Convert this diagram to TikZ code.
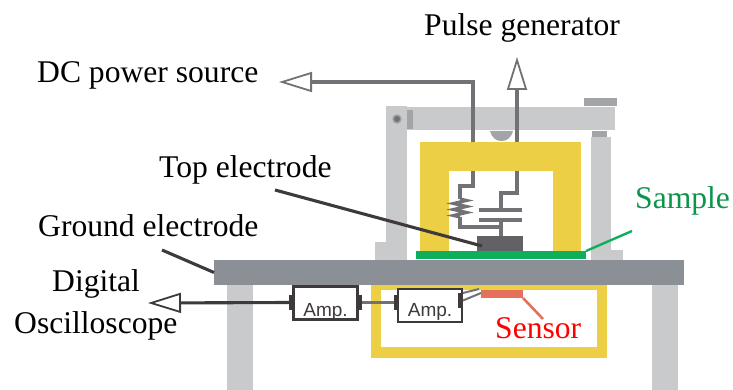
\documentclass[tikz,border=0pt]{standalone}
\usepackage{fontspec}
\setmainfont{Liberation Serif}
\newfontfamily\ampfont{Liberation Sans}
\usetikzlibrary{arrows.meta,decorations.pathmorphing}
\definecolor{postgrey}{HTML}{C9CACC}
\definecolor{plategrey}{HTML}{8B8F96}
\definecolor{framey}{HTML}{ECCF45}
\definecolor{samplegreen}{HTML}{0FAE5A}
\definecolor{sensorred}{HTML}{E5705C}
\definecolor{wiregrey}{HTML}{727276}
\definecolor{darkwire}{HTML}{3E3A3C}
\definecolor{elecgrey}{HTML}{626266}
\definecolor{capgrey}{HTML}{A3A4A7}
\newcommand{\blk}[6]{\node[inner sep=0pt,outer sep=0pt,fill=#6,minimum width={(#4-#2)*1pt},minimum height={(#5-#3)*1pt}] (#1) at ({(#2+#4)/2},{(#3+#5)/2}) {};}
\tikzset{
  wire/.style={draw=wiregrey,line width=3.1pt},
  darkline/.style={draw=darkwire,line width=3.1pt},
  opentip/.style={-{Triangle[open,length=33pt,width=20pt,line width=1.8pt,fill=white]}},
  label/.style={anchor=base west,inner sep=0pt,font=\fontsize{31.6}{32}\selectfont,text=black},
  ampbox/.style={draw=darkwire,line width=2.4pt,fill=white,inner sep=0pt,minimum width=64pt,minimum height=33pt},
  amptext/.style={anchor=base,inner sep=0pt,font=\ampfont\fontsize{19}{19}\selectfont,text=darkwire},
}
\begin{document}
\begin{tikzpicture}[x=1pt,y=-1pt]
\useasboundingbox (0,0) rectangle (733,390);
% legs and posts
\blk{legl}{227}{285}{253}{390}{postgrey}
\blk{legr}{652}{285}{678}{390}{postgrey}
\blk{postl}{386}{106}{407}{260}{postgrey}
\blk{postlb}{375}{242}{407}{260}{postgrey}
\blk{postr}{591}{137}{611}{260}{postgrey}
\blk{postrb}{591}{250}{623}{260}{postgrey}
\blk{postrcap}{592}{131}{607}{137}{capgrey}
\blk{beam}{407}{107}{615}{130}{postgrey}
\blk{beamtop}{584}{98}{617}{106}{capgrey}
\blk{hinge}{407}{110}{413}{129}{capgrey}
\node[circle,fill=wiregrey,draw=capgrey,line width=1.5pt,minimum size=8pt,inner sep=0pt] (pivot) at (397,119) {};
\fill[capgrey] (490,131) -- (513,131) .. controls (511,138) and (507,141) .. (501.5,141) .. controls (496,141) and (492,138) .. (490,131) -- cycle;
% upper frame
\blk{frameo}{420}{142}{581}{251}{framey}
\blk{framei}{449}{171}{553}{251}{white}
% lower frame
\blk{lowo}{371}{285}{607}{358}{framey}
\blk{lowi}{381}{290}{597}{347}{white}
% top electrode, sample, plate, sensor
\blk{electrode}{477}{236}{523}{251}{elecgrey}
\blk{sample}{416}{251}{586}{259}{samplegreen}
\blk{plate}{214}{260}{684}{285}{plategrey}
\blk{sensorblk}{481}{290}{523}{298}{sensorred}
% left branch
\coordinate (dcend) at (279,82);
\coordinate (dcc) at (473,82);
\coordinate (dcb) at (473,142);
\coordinate (la) at (473,171);
\coordinate (lb) at (473,186);
\coordinate (lc) at (460,186);
\coordinate (ld) at (460,199);
\coordinate (le) at (460,217);
\coordinate (lf) at (460,227);
\coordinate (lg) at (501,227);
\draw[wire,opentip] (dcb) -- (dcc) -- (dcend);
\draw[wire] (la) -- (lb) -- (lc) -- (ld);
\draw[wire,line width=3.2pt,decorate,decoration={zigzag,amplitude=6.5pt,segment length=6pt}] (ld) -- (le);
\draw[wire] (le) -- (lf) -- (lg);
% right branch
\coordinate (pgend) at (517,57);
\coordinate (pgb) at (517,142);
\coordinate (ra) at (517,171);
\coordinate (rb) at (517,193);
\coordinate (rc) at (501,193);
\coordinate (capa) at (501,210);
\coordinate (capb) at (501,220);
\coordinate (capal) at (479,210);
\coordinate (capar) at (522,210);
\coordinate (capbl) at (479,220);
\coordinate (capbr) at (522,220);
\draw[wire,opentip] (pgb) -- (pgend);
\draw[wire] (ra) -- (rb) -- (rc) -- (capa);
\draw[wire] (capal) -- (capar);
\draw[wire] (capbl) -- (capbr);
\draw[wire] (capb) -- (electrode.north -| capb);
% amplifiers
\node[ampbox] (ampa) at (325.5,303) {};
\node[ampbox] (ampb) at (430,305.5) {};
\node[amptext] (ampat) at (325.5,316) {Amp.};
\node[amptext] (ampbt) at (430,316) {Amp.};
\blk{ampal}{289}{295}{295}{310}{darkwire}
\blk{ampar}{357}{295}{362}{310}{darkwire}
\blk{ampbl}{394}{295}{399}{310}{darkwire}
\blk{ampbr}{458}{293}{463}{308}{darkwire}
\coordinate (oscend) at (148,303);
\draw[darkline,opentip] (ampal.west) -- (oscend);
\draw[wire] (ampar.east) -- (ampbl.west);
\coordinate (sa) at (479,289);
\coordinate (sb) at (481,293);
\draw[wire,line width=2pt] (ampbr.north east) -- (sa);
\draw[wire,line width=2pt] (ampbr.east) -- (sb);
% leaders
\coordinate (topl) at (275,190);
\coordinate (topr) at (482,246);
\draw[darkline] (topl) -- (topr);
\coordinate (gndl) at (162,250);
\draw[darkline] (gndl) -- (plate.west);
\coordinate (samr) at (632,231);
\draw[draw=samplegreen,line width=2.4pt] (sample.north east) -- (samr);
\coordinate (senr) at (543,319);
\draw[draw=sensorred,line width=2.6pt] (sensorblk.south east) -- (senr);
% labels
\node[label] (tpg) at (424,36) {Pulse generator};
\node[label] (tdc) at (37,83) {DC power source};
\node[label] (tte) at (159,178) {Top electrode};
\node[label] (tge) at (38,236) {Ground electrode};
\node[label] (tdo) at (52,291) {Digital};
\node[label] (tos) at (14,333) {Oscilloscope};
\node[label,text=samplegreen!85!black] (tsa) at (635,208) {Sample};
\node[label,text=red] (tse) at (495,338) {Sensor};
\end{tikzpicture}
\end{document}
